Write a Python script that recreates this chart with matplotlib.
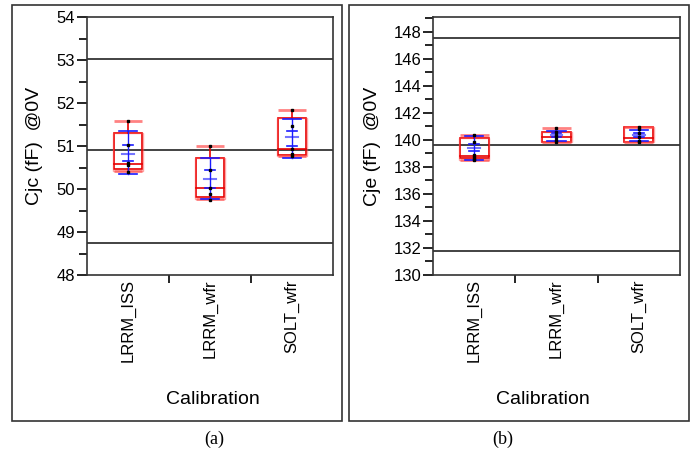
import matplotlib
matplotlib.use('Agg')
import matplotlib.pyplot as plt
from matplotlib.patches import Rectangle
from matplotlib.ticker import MultipleLocator, FixedLocator

plt.rcParams['font.family'] = ['Liberation Sans', 'DejaVu Sans']

categories = ['LRRM_ISS', 'LRRM_wfr', 'SOLT_wfr']

# panel (a): Cjc
cjc_points = [[51.57, 51.02, 50.60, 50.55, 50.40],
              [51.00, 50.44, 50.02, 49.89, 49.74],
              [51.83, 51.47, 50.92, 50.82, 50.77]]
cjc_q1 = [50.47, 49.82, 50.78]
cjc_med = [50.59, 50.02, 50.93]
cjc_q3 = [51.30, 50.71, 51.66]
cjc_wlo = [50.42, 49.76, 50.76]
cjc_whi = [51.58, 51.00, 51.84]
cjc_mean = [50.81, 50.23, 51.22]
cjc_inner = [(50.66, 51.02), (50.02, 50.44), (51.01, 51.36)]
cjc_outer = [(50.35, 51.36), (49.76, 50.71), (50.71, 51.63)]
cjc_refs = [53.03, 50.90, 48.75]

# panel (b): Cje
cje_points = [[140.35, 139.85, 138.85, 138.75, 138.60, 138.50],
              [140.85, 140.60, 140.40, 140.25, 140.00, 139.82],
              [140.95, 140.78, 140.50, 140.20, 139.95, 139.82]]
cje_q1 = [138.64, 139.87, 139.87]
cje_med = [138.84, 140.24, 140.12]
cje_q3 = [140.12, 140.62, 140.96]
cje_wlo = [138.55, 139.85, 139.85]
cje_whi = [140.37, 140.86, 140.96]
cje_mean = [139.40, 140.37, 140.37]
cje_inner = [(139.15, 139.70), (140.25, 140.50), (140.25, 140.50)]
cje_outer = [(138.52, 140.30), (139.95, 140.68), (139.95, 140.74)]
cje_refs = [147.55, 139.65, 131.80]

RED = '#e60000'
LRED = '#ff4d4d'
BLUE = '#1a1aff'


def draw_panel(ax, points, q1, med, q3, wlo, whi, mean, inner, outer, refs,
               ylim, major, ylabel):
    bw = 0.35
    for i in range(len(categories)):
        # red box plot
        ax.add_patch(Rectangle((i - bw / 2, q1[i]), bw, q3[i] - q1[i],
                               fill=False, ec=RED, lw=1.2, zorder=3))
        ax.add_patch(Rectangle((i - bw / 2 - 0.01, wlo[i]), bw + 0.02,
                               q3[i] - wlo[i], fill=False, ec=LRED,
                               lw=1.0, alpha=0.5, zorder=3))
        ax.plot([i - bw / 2, i + bw / 2], [med[i], med[i]], color=RED, lw=1.2, zorder=3)
        ax.plot([i, i], [q3[i], whi[i]], color=RED, lw=1.2, zorder=3)
        ax.plot([i, i], [wlo[i], q1[i]], color=RED, lw=1.2, zorder=3)
        for v in (wlo[i], whi[i]):
            ax.plot([i - bw / 2, i + bw / 2], [v, v], color=LRED, lw=2,
                    alpha=0.7, zorder=3, solid_capstyle='butt')
        # blue mean / error bars
        ax.plot([i, i], outer[i], color=BLUE, lw=1, zorder=4)
        for v in outer[i]:
            ax.plot([i - 0.11, i + 0.11], [v, v], color=BLUE, lw=1.2, zorder=4)
        for v in inner[i]:
            ax.plot([i - 0.06, i + 0.06], [v, v], color=BLUE, lw=1.2, zorder=4)
        ax.plot([i - 0.07, i + 0.07], [mean[i], mean[i]], color=BLUE, lw=1.5,
                alpha=0.6, zorder=4)
        # data points
        ax.plot([i] * len(points[i]), points[i], 's', color='black', ms=2,
                zorder=5)
    for r in refs:
        ax.axhline(r, color='#222222', lw=1.2, zorder=2)

    ax.set_xlim(-0.5, len(categories) - 0.5)
    ax.set_ylim(*ylim)
    ax.yaxis.set_major_locator(MultipleLocator(major))
    ax.yaxis.set_minor_locator(MultipleLocator(major / 2))
    ax.set_xticks(range(len(categories)))
    ax.set_xticklabels(categories, rotation=90, fontsize=12)
    ax.xaxis.set_minor_locator(FixedLocator([0.5, 1.5]))
    ax.tick_params(axis='x', which='major', length=0, pad=3)
    ax.tick_params(axis='x', which='minor', length=6, width=1.2)
    ax.tick_params(axis='y', which='major', length=7.5, width=1.2, labelsize=12, pad=1)
    ax.tick_params(axis='y', which='minor', length=6, width=1.2)
    for s in ax.spines.values():
        s.set_linewidth(1.2)
        s.set_color('#333333')
    ax.set_ylabel(ylabel, fontsize=14)


fig = plt.figure(figsize=(6.95, 4.51), dpi=100)
W, H = 695, 451

ax1 = fig.add_axes([87 / W, 176 / H, 246 / W, 258 / H])
draw_panel(ax1, cjc_points, cjc_q1, cjc_med, cjc_q3, cjc_wlo, cjc_whi,
           cjc_mean, cjc_inner, cjc_outer, cjc_refs, (48, 54), 1,
           'Cjc (fF)  @0V')
ax1.yaxis.set_label_coords(-0.18, 0.5)

ax2 = fig.add_axes([433 / W, 176 / H, 247 / W, 258 / H])
draw_panel(ax2, cje_points, cje_q1, cje_med, cje_q3, cje_wlo, cje_whi,
           cje_mean, cje_inner, cje_outer, cje_refs, (130, 149.1), 2,
           'Cje (fF)  @0V')
ax2.yaxis.set_label_coords(-0.21, 0.5)

fig.text(213 / W, 1 - 400 / H, 'Calibration', fontsize=14, ha='center', va='center')
fig.text(543 / W, 1 - 400 / H, 'Calibration', fontsize=14, ha='center', va='center')
fig.text(214 / W, 1 - 439 / H, '(a)', fontsize=13, ha='center', va='center',
         family=['Liberation Serif', 'DejaVu Serif'])
fig.text(503 / W, 1 - 439 / H, '(b)', fontsize=13, ha='center', va='center',
         family=['Liberation Serif', 'DejaVu Serif'])

# outer frames of the two panels
fig.add_artist(Rectangle((12 / W, 1 - 421 / H), 330 / W, 416 / H, fill=False,
                         ec='#333333', lw=1.2, transform=fig.transFigure))
fig.add_artist(Rectangle((349 / W, 1 - 421 / H), 340 / W, 416 / H, fill=False,
                         ec='#333333', lw=1.2, transform=fig.transFigure))

fig.savefig('out.png', dpi=100)
